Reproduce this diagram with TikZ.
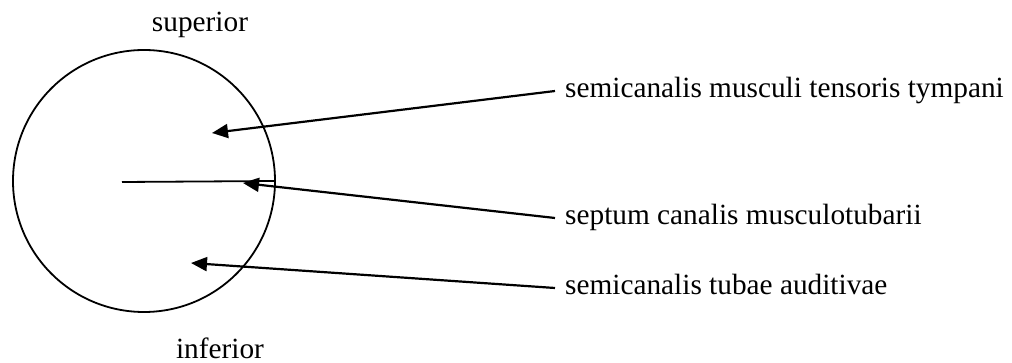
\documentclass[tikz,border=0pt]{standalone}
\usepackage{fontspec}
\setmainfont{Liberation Serif}
\usetikzlibrary{arrows.meta}

\tikzset{
  lbl/.style={inner xsep=10pt, inner ysep=0pt, text height=20pt, text depth=6pt, anchor=west},
  ptr/.style={line width=2.2pt, -{Triangle[length=16pt,width=14pt]}}
}

\begin{document}
\begin{tikzpicture}[x=1pt,y=-1pt,font=\fontsize{29.3}{35}\selectfont]
  \useasboundingbox (0,0) rectangle (1012,363);

  \node[name=canal, draw, circle, line width=1.8pt, minimum size=262pt, inner sep=0pt] at (144,181) {};
  \node[name=sup, anchor=base] at (200,32) {superior};
  \node[name=inf, anchor=base] at (220,358) {inferior};

  \coordinate (s) at (122,182);
  \draw[line width=1.8pt] (s) -- (canal.east);

  \node[name=m, lbl] at (555,91) {semicanalis musculi tensoris tympani};
  \node[name=sc, lbl] at (555,218) {septum canalis musculotubarii};
  \node[name=t, lbl] at (555,288) {semicanalis tubae auditivae};

  \coordinate (mt) at (212,133);
  \coordinate (sct) at (243,183);
  \coordinate (tt) at (191,263);
  \draw[ptr] (m.west) -- (mt);
  \draw[ptr] (sc.west) -- (sct);
  \draw[ptr] (t.west) -- (tt);

\end{tikzpicture}
\end{document}
